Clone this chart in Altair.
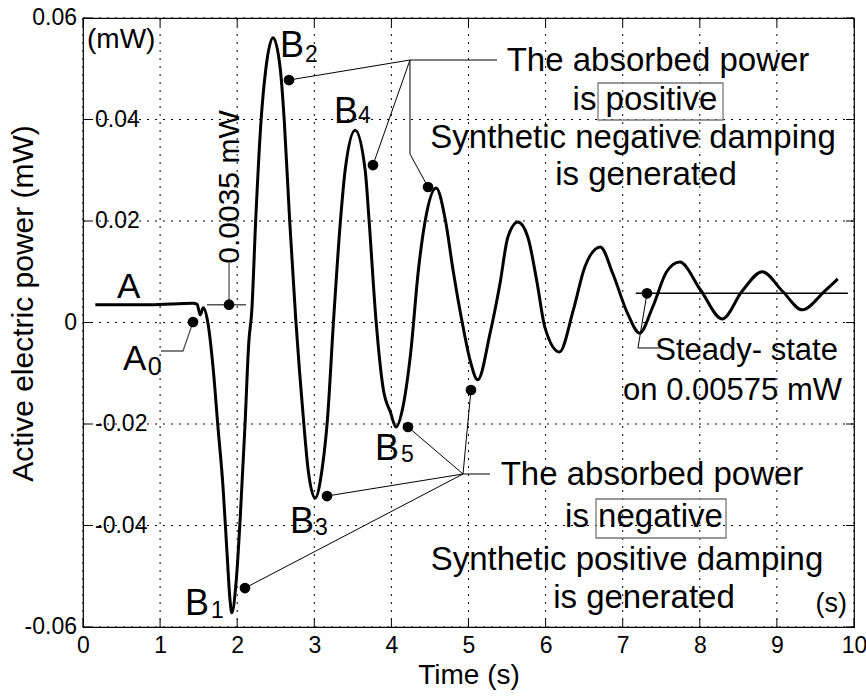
import altair as alt
import pandas as pd

# Active electric power after the disturbance (mW) versus time (s)
time_s = [0.16, 0.87, 1.43, 1.48, 1.52, 1.56, 1.62, 1.686, 1.75, 1.816, 1.868, 1.907,
          1.93, 1.985, 2.04, 2.10, 2.15, 2.19, 2.24, 2.31, 2.37, 2.465, 2.56, 2.61,
          2.68, 2.76, 2.86, 2.92, 3.01, 3.10, 3.17, 3.25, 3.34, 3.40, 3.53, 3.66,
          3.71, 3.80, 3.89, 3.99, 4.06, 4.15, 4.25, 4.35, 4.44, 4.58, 4.70, 4.80,
          4.93, 5.02, 5.12, 5.28, 5.41, 5.51, 5.64, 5.77, 5.89, 5.99, 6.18, 6.36,
          6.51, 6.71, 6.87, 7.06, 7.22, 7.39, 7.57, 7.74, 8.01, 8.29, 8.55, 8.81,
          9.07, 9.33, 9.62, 9.79]
power_mw = [0.0035, 0.0035, 0.0038, 0.0036, 0.0015, 0.0029, -0.0001, -0.0087, -0.0205,
            -0.0324, -0.0454, -0.0547, -0.0572, -0.0513, -0.0383, -0.0206, -0.0040,
            0.0025, 0.0202, 0.0399, 0.0498, 0.0561, 0.0498, 0.0399, 0.0202, 0.0005,
            -0.0192, -0.0290, -0.0346, -0.0290, -0.0192, 0.0005, 0.0202, 0.0300,
            0.0379, 0.0300, 0.0202, 0.0005, -0.0127, -0.0178, -0.0206, -0.0166,
            -0.0060, 0.0103, 0.0202, 0.0265, 0.0202, 0.0103, -0.0009, -0.0074,
            -0.0113, -0.0021, 0.0078, 0.0168, 0.0198, 0.0168, 0.0078, -0.0009,
            -0.0058, 0.0025, 0.0110, 0.0149, 0.0097, 0.0019, -0.0021, 0.0031,
            0.0100, 0.0119, 0.0064, 0.0007, 0.0062, 0.0100, 0.0062, 0.0025,
            0.0062, 0.0086]

initial_level = 0.0035      # level A before the disturbance
steady_level = 0.00575      # final steady-state level

x_ticks = list(range(11))
y_ticks = [0.06, 0.04, 0.02, 0.0, -0.02, -0.04, -0.06]
y_tick_text = ["0.06", "0.04", "0.02", "0", "-0.02", "-0.04", "-0.06"]
y_ticks_outside = ["0.06", "0", "-0.06"]

# ---- annotation layout (time, power) -------------------------------------
marker_t = [1.427, 1.894, 2.101, 2.672, 3.165, 3.761, 4.215, 4.475, 5.032, 7.315]
marker_p = [0.0001, initial_level, -0.05232, 0.04778, -0.03419, 0.03103,
            -0.02059, 0.02670, -0.01330, steady_level]

# leader polylines: (group, t, p)
black_leaders = [
    ("b2", 2.672, 0.04778), ("b2", 4.241, 0.05172), ("b2", 5.370, 0.05172),
    ("b4", 4.241, 0.05172), ("b4", 3.761, 0.03103),
    ("b6", 4.241, 0.05172), ("b6", 4.241, 0.03320), ("b6", 4.475, 0.02670),
    ("b7", 5.279, -0.02985), ("b7", 4.929, -0.02985), ("b7", 5.032, -0.01330),
    ("b5", 4.929, -0.02985), ("b5", 4.215, -0.02059),
    ("b3", 4.929, -0.02985), ("b3", 3.165, -0.03419),
    ("b1", 4.929, -0.02985), ("b1", 2.101, -0.05232),
    ("ss", 7.315, steady_level), ("ss", 7.198, -0.00502), ("ss", 7.484, -0.00502),
]
gray_leaders = [
    ("a0", 1.427, 0.0001), ("a0", 1.297, -0.00562), ("a0", 1.012, -0.00562),
    ("ah", 1.608, initial_level), ("ah", 2.114, initial_level),
    ("av", 1.894, initial_level), ("av", 1.894, 0.01172),
]
steady_span = [7.17, 9.92]

boxes = [(6.680, 8.301, 0.04719, 0.03990), (6.654, 8.340, -0.03478, -0.04246)]

# (text, t, p, font size, angle)
left_texts = [
    ("(mW)", 0.052, 0.05409, 28, 0),
    ("A", 0.441, 0.00483, 35, 0),
    ("A", 0.519, -0.00936, 35, 0), ("0", 0.84, -0.01034, 25, 0),
    ("B", 1.323, -0.05764, 36, 0), ("1", 1.660, -0.05823, 23, 0),
    ("B", 2.555, 0.05232, 36, 0), ("2", 2.879, 0.05133, 23, 0),
    ("B", 2.685, -0.04148, 36, 0), ("3", 3.009, -0.04187, 23, 0),
    ("B", 3.256, 0.03931, 36, 0), ("4", 3.567, 0.03931, 23, 0),
    ("B", 3.787, -0.02709, 36, 0), ("5", 4.125, -0.02749, 23, 0),
]
center_texts = [
    ("The absorbed power", 7.458, 0.04956, 33, 0),
    ("is positive", 7.289, 0.04187, 33, 0),
    ("Synthetic negative damping", 7.134, 0.03438, 33, 0),
    ("is generated", 7.302, 0.02709, 33, 0),
    ("The absorbed power", 7.380, -0.03202, 33, 0),
    ("is negative", 7.276, -0.04030, 33, 0),
    ("Synthetic positive damping", 7.056, -0.04877, 33, 0),
    ("is generated", 7.276, -0.05626, 33, 0),
]
right_texts = [
    ("Steady- state", 9.792, -0.00739, 31, 0),
    ("on 0.00575 mW", 9.844, -0.01527, 31, 0),
    ("(s)", 9.909, -0.05704, 27, 0),
]
vertical_texts = [("0.0035 mW", 1.907, 0.02670, 30, 270)]

# ---- chart ----------------------------------------------------------------
FONT = "Liberation Sans"
W, H = 771, 609
xs = alt.Scale(domain=[0, 10], nice=False, zero=False)
ys = alt.Scale(domain=[-0.06, 0.06], nice=False, zero=False)

PLAIN = dict(grid=False, ticks=False, domain=False, titleFontWeight="normal",
             titleColor="black")
AX_X = alt.Axis(values=x_ticks, labelFlush=False, labelFontSize=23, labelPadding=7,
                labelColor="black", title="Time (s)", titleFontSize=28,
                titleY=56, titleBaseline="alphabetic", **PLAIN)
AX_Y = alt.Axis(values=y_ticks, labels=False, title="Active electric power (mW)",
                titleFontSize=30, titleAngle=270, titleX=-60, titleY=285,
                titleAlign="center", titleBaseline="middle", **PLAIN)


def X(field="t"):
    return alt.X(f"{field}:Q", scale=xs, axis=AX_X)


def Y(field="p"):
    return alt.Y(f"{field}:Q", scale=ys, axis=AX_Y)


xt = pd.DataFrame({"t": x_ticks})
yt = pd.DataFrame({"p": y_ticks, "label": y_tick_text})

# dotted grid spanning the whole plot area
grid_style = dict(color="#000000", strokeWidth=1, strokeDash=[2, 6], strokeCap="butt")
grid = alt.layer(
    alt.Chart(xt).mark_rule(**grid_style).encode(
        x=X(), y=alt.value(0), y2=alt.value(H)),
    alt.Chart(yt).mark_rule(**grid_style).encode(
        y=Y(), x=alt.value(0), x2=alt.value(W)),
)

curve = pd.DataFrame({"t": time_s, "p": power_mw})
response = alt.Chart(curve).mark_line(
    color="black", strokeWidth=3, interpolate="monotone").encode(x=X(), y=Y())

# inward tick marks on all four sides
ticks = alt.layer(
    alt.Chart(xt).mark_rule(color="black").encode(x=X(), y=alt.value(0), y2=alt.value(8)),
    alt.Chart(xt).mark_rule(color="black").encode(x=X(), y=alt.value(H - 8), y2=alt.value(H)),
    alt.Chart(yt).mark_rule(color="black").encode(y=Y(), x=alt.value(0), x2=alt.value(8)),
    alt.Chart(yt).mark_rule(color="black").encode(y=Y(), x=alt.value(W - 8), x2=alt.value(W)),
)

outside = yt[yt["label"].isin(y_ticks_outside)]
inside = yt[~yt["label"].isin(y_ticks_outside)]
y_labels = alt.layer(
    alt.Chart(outside).mark_text(align="right", baseline="middle", fontSize=23,
                                 color="black").encode(y=Y(), x=alt.value(-6), text="label:N"),
    alt.Chart(inside).mark_text(align="left", baseline="middle", fontSize=23,
                                color="black").encode(y=Y(), x=alt.value(12), text="label:N"),
)

steady = alt.Chart(pd.DataFrame({"t": steady_span, "p": [steady_level] * 2})).mark_line(
    color="black", strokeWidth=1.5).encode(x=X(), y=Y())


def leader_frame(rows):
    df = pd.DataFrame(rows, columns=["g", "t", "p"])
    df["o"] = range(len(df))
    return df


leaders = alt.layer(
    alt.Chart(leader_frame(black_leaders)).mark_line(color="black", strokeWidth=1).encode(
        x=X(), y=Y(), detail="g:N", order="o:Q"),
    alt.Chart(leader_frame(gray_leaders)).mark_line(color="#555", strokeWidth=1.3).encode(
        x=X(), y=Y(), detail="g:N", order="o:Q"),
)

markers = alt.Chart(pd.DataFrame({"t": marker_t, "p": marker_p})).mark_circle(
    color="black", opacity=1, size=115).encode(x=X(), y=Y())

box_df = pd.DataFrame(boxes, columns=["t", "t2", "p", "p2"])
frames = alt.Chart(box_df).mark_rect(fillOpacity=0, stroke="#777", strokeWidth=1.3).encode(
    x=X(), x2="t2:Q", y=Y(), y2="p2:Q")


def text_layer(rows, align, baseline="alphabetic"):
    df = pd.DataFrame(rows, columns=["text", "t", "p", "fs", "ang"])
    return alt.Chart(df).mark_text(align=align, baseline=baseline, color="black").encode(
        x=X(), y=Y(), text="text:N",
        size=alt.Size("fs:Q", scale=None, legend=None),
        angle=alt.Angle("ang:Q", scale=None))


labels = alt.layer(
    text_layer(left_texts, "left"),
    text_layer(center_texts, "center"),
    text_layer(right_texts, "right"),
    text_layer(vertical_texts, "center", "middle"),
)

chart = alt.layer(
    grid, response, ticks, y_labels, steady, leaders, frames, markers, labels
).properties(
    width=W, height=H,
    padding={"left": 83, "top": 18, "right": 12, "bottom": 69},
    autosize=alt.AutoSizeParams(type="none"),
).configure(font=FONT).configure_view(stroke="black", strokeWidth=1.2)

chart.save("out.html", embed_options={"renderer": "svg", "actions": False})
